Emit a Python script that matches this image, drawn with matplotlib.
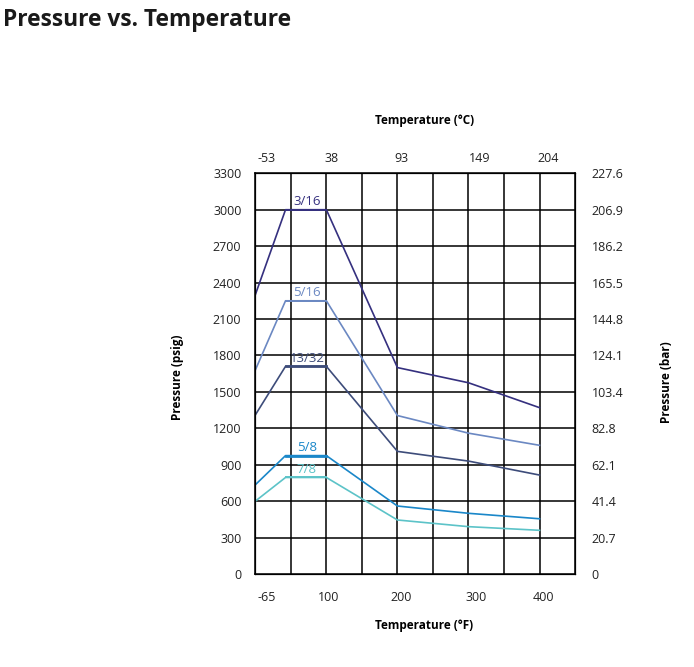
import numpy as np
import matplotlib.pyplot as plt

plt.rcParams['font.family'] = ['Open Sans', 'DejaVu Sans']

# ==========================================
# data
# ==========================================
# x is the grid column index; gridlines at 0..9
x_pts = [0, 0.85, 2, 4, 6, 8]

series_names = ['3/16', '5/16', '13/32', '5/8', '7/8']
p_3_16 = [2300, 3000, 3000, 1700, 1575, 1370]
p_5_16 = [1680, 2250, 2250, 1305, 1160, 1060]
p_13_32 = [1310, 1710, 1710, 1010, 930, 815]
p_5_8 = [735, 975, 975, 560, 500, 455]
p_7_8 = [600, 795, 795, 445, 390, 360]
series_vals = [p_3_16, p_5_16, p_13_32, p_5_8, p_7_8]
series_colors = ['#35307f', '#6b88c2', '#3d4c7a', '#1a87c9', '#5cc3c8']

psig_ticks = [0, 300, 600, 900, 1200, 1500, 1800, 2100, 2400, 2700, 3000, 3300]
bar_labels = ['0', '20.7', '41.4', '62.1', '82.8', '103.4', '124.1', '144.8',
              '165.5', '186.2', '206.9', '227.6']

f_labels = ['-65', '100', '200', '300', '400']
f_pos = [0.33, 2.05, 4.1, 6.22, 8.1]
c_labels = ['-53', '38', '93', '149', '204']
c_pos = [0.33, 2.15, 4.1, 6.32, 8.25]

# ==========================================
# plot
# ==========================================
fig = plt.figure(figsize=(6.94, 6.67), dpi=100)
ax = fig.add_axes([0.3679, 0.1394, 0.4607, 0.6008])

for xv in range(1, 9):
    ax.axvline(xv, color='black', lw=1.1, zorder=1)
for yv in psig_ticks[1:-1]:
    ax.axhline(yv, color='black', lw=1.1, zorder=1)

for name, vals, col in zip(series_names, series_vals, series_colors):
    ax.plot(x_pts, vals, color=col, lw=1.2, zorder=3)
    lw_flat = 2.0 if name in ('5/8', '13/32') else 1.4
    ax.plot(x_pts[1:3], vals[1:3], color=col, lw=lw_flat, zorder=3)
    ax.text(1.45, vals[1] + 15, name, color=col, fontsize=9.5,
            ha='center', va='bottom', zorder=4)

ax.set_xlim(0, 9)
ax.set_ylim(0, 3300)
for s in ax.spines.values():
    s.set_linewidth(1.1)

ax.set_yticks(psig_ticks)
ax.set_yticklabels([str(v) for v in psig_ticks], fontsize=9, color='#222222')
ax.set_xticks(f_pos)
ax.set_xticklabels(f_labels, fontsize=9, color='#222222')
ax.tick_params(axis='x', length=0, pad=12)
ax.tick_params(axis='y', length=0, pad=10)

ax_top = ax.twiny()
ax_top.set_xlim(0, 9)
ax_top.set_xticks(c_pos)
ax_top.set_xticklabels(c_labels, fontsize=9, color='#222222')
ax_top.tick_params(length=0, pad=6)

ax_r = ax.twinx()
ax_r.set_ylim(0, 3300)
ax_r.set_yticks(psig_ticks)
ax_r.set_yticklabels(bar_labels, fontsize=9, color='#222222')
ax_r.tick_params(length=0, pad=12)

ax.set_xlabel('Temperature (°F)', fontsize=8.5, fontweight='bold')
ax.xaxis.set_label_coords(0.528, -0.113)
ax_top.set_xlabel('Temperature (°C)', fontsize=8.5, fontweight='bold')
ax_top.xaxis.set_label_coords(0.528, 1.123)
ax.set_ylabel('Pressure (psig)', fontsize=8.5, fontweight='bold')
ax.yaxis.set_label_coords(-0.222, 0.49)
ax_r.set_ylabel('Pressure (bar)', fontsize=8.5, fontweight='bold')
ax_r.yaxis.set_label_coords(1.265, 0.48)

fig.text(0.004, 0.988, 'Pressure vs. Temperature', fontsize=16.4,
         fontweight='bold', ha='left', va='top', color='#1a1a1a')

fig.savefig('out.png', dpi=100)
